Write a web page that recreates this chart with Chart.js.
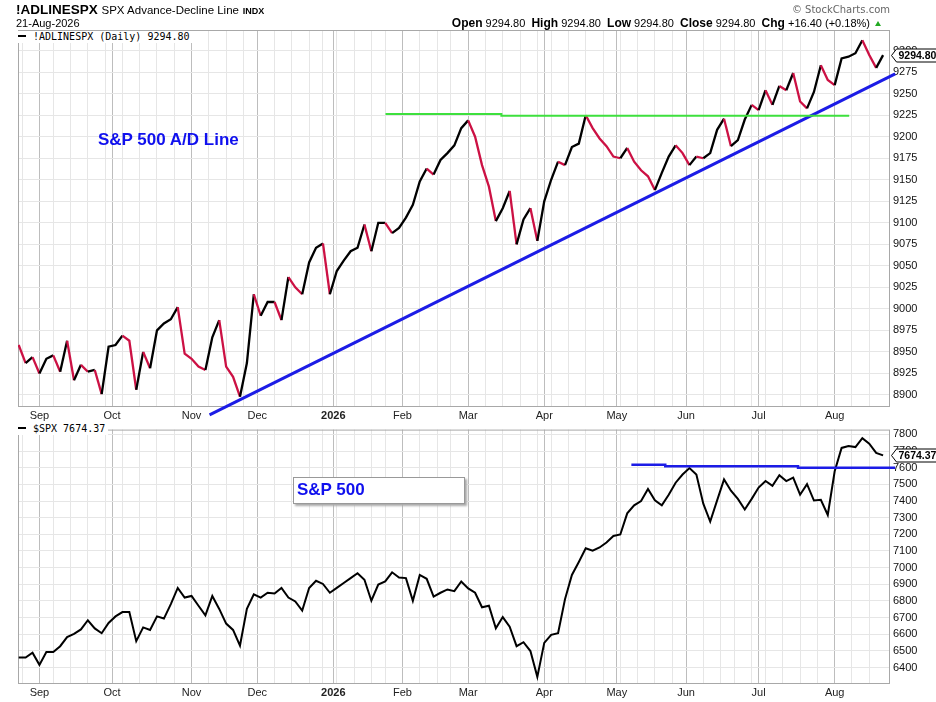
<!DOCTYPE html>
<html>
<head>
<meta charset="utf-8">
<script src="https://cdn.jsdelivr.net/npm/chart.js@4.4.1/dist/chart.umd.min.js"></script>
<style>
  body { margin: 0; width: 936px; height: 702px; position: relative; background: #fff; overflow: hidden;
         font-family: "Liberation Sans", Arial, sans-serif; color: #000; }
  .abs { position: absolute; white-space: nowrap; }
  .legend { background: #fff; font: 10px "DejaVu Sans Mono", monospace; line-height: 12px; padding-right: 3px; }
  .legend i { display: inline-block; width: 8px; height: 2px; background: #000; vertical-align: middle; margin: 0 7px 2px 1px; }
  .note { color: #1010ee; font-weight: bold; font-size: 17px; }
</style>
</head>
<body>

<div class="abs" style="left:0;top:0;width:936px;height:422px"><canvas id="adChart"></canvas></div>
<div class="abs" style="left:0;top:420px;width:936px;height:282px"><canvas id="spxChart"></canvas></div>

<!-- header -->
<div class="abs" style="left:16px;top:2px;font-weight:bold;font-size:13.5px">!ADLINESPX <span style="font-weight:normal;font-size:11.5px">SPX Advance-Decline Line</span> <span style="font-size:9px">INDX</span></div>
<div class="abs" style="left:16px;top:17px;font-size:11px">21-Aug-2026</div>
<div class="abs" style="right:46px;top:4px;font:10px 'DejaVu Sans', sans-serif;color:#666">© StockCharts.com</div>
<div class="abs" style="right:55px;top:16px;font-size:11px">
  <b style="font-size:12px">Open</b> 9294.80&nbsp; <b style="font-size:12px">High</b> 9294.80&nbsp; <b style="font-size:12px">Low</b> 9294.80&nbsp; <b style="font-size:12px">Close</b> 9294.80&nbsp; <b style="font-size:12px">Chg</b> +16.40 (+0.18%)
  <span style="display:inline-block;width:0;height:0;border-left:3px solid transparent;border-right:3px solid transparent;border-bottom:5px solid #22aa22;margin-left:2px;vertical-align:1px"></span>
</div>

<!-- panel legends -->
<div class="abs legend" id="adLegend" style="left:17px;top:31px"></div>
<div class="abs legend" id="spxLegend" style="left:17px;top:423px"></div>

<!-- annotations -->
<div class="abs note" style="left:98px;top:130px">S&amp;P 500 A/D Line</div>
<div class="abs" style="left:293px;top:477px;width:170px;height:25px;background:#fff;border:1px solid #999;box-shadow:2px 2px 2px #aaa"></div>
<div class="abs note" style="left:297px;top:480px">S&amp;P 500</div>

<script>
// trading calendar: first point is 22-Aug-2025, one value every 2 sessions
const startDate = '2025-08-22';
const sessionCount = 251;
const sampleStep = 2;
const holidays = ['2025-09-01', '2025-11-27', '2025-12-25', '2026-01-01', '2026-01-19',
                  '2026-02-16', '2026-04-03', '2026-05-25', '2026-06-19', '2026-07-03'];
const monthLabels = ['Sep', 'Oct', 'Nov', 'Dec', '2026', 'Feb', 'Mar', 'Apr', 'May', 'Jun', 'Jul', 'Aug'];

// !ADLINESPX closes
const adValues = [
  8958, 8937, 8944, 8925, 8942, 8946, 8927, 8963, 8917, 8935,
  8927, 8929, 8901, 8956, 8958, 8969, 8963, 8906, 8950, 8931,
  8975, 8983, 8988, 9002, 8948, 8942, 8933, 8929, 8967, 8987,
  8933, 8921, 8898, 8937, 9017, 8992, 9008, 9008, 8987, 9037,
  9025, 9017, 9054, 9071, 9076, 9017, 9044, 9056, 9067, 9071,
  9098, 9067, 9100, 9100, 9088, 9094, 9106, 9121, 9148, 9163,
  9156, 9173, 9181, 9190, 9210, 9219, 9200, 9167, 9142, 9102,
  9117, 9137, 9075, 9104, 9117, 9079, 9125, 9150, 9171, 9167,
  9188, 9192, 9225, 9210, 9198, 9189, 9177, 9175, 9187, 9171,
  9161, 9154, 9138, 9158, 9177, 9190, 9181, 9167, 9177, 9175,
  9181, 9208, 9221, 9189, 9196, 9220, 9237, 9231, 9254, 9237,
  9259, 9254, 9274, 9241, 9233, 9252, 9283, 9266, 9260, 9291,
  9293, 9297, 9312, 9295, 9280, 9294.80
];

// $SPX closes
const spxValues = [
  6460, 6460, 6489, 6416, 6493, 6493, 6528, 6583, 6602, 6629,
  6684, 6635, 6606, 6668, 6707, 6733, 6733, 6558, 6641, 6626,
  6707, 6694, 6781, 6878, 6820, 6830, 6771, 6713, 6830, 6752,
  6664, 6626, 6532, 6752, 6840, 6820, 6849, 6845, 6878, 6820,
  6797, 6742, 6878, 6921, 6902, 6849, 6878, 6908, 6937, 6966,
  6927, 6801, 6898, 6917, 6972, 6941, 6937, 6801, 6956, 6933,
  6826, 6849, 6869, 6859, 6917, 6875, 6849, 6762, 6771, 6635,
  6703, 6645, 6528, 6552, 6499, 6344, 6548, 6596, 6606, 6810,
  6956, 7034, 7116, 7102, 7121, 7151, 7190, 7199, 7326, 7374,
  7400, 7472, 7404, 7374, 7438, 7510, 7559, 7598, 7559, 7384,
  7277, 7404, 7530, 7462, 7413, 7349, 7413, 7481, 7520, 7491,
  7555, 7520, 7540, 7438, 7501, 7403, 7407, 7316, 7579, 7719,
  7730, 7724, 7777, 7744, 7689, 7674.37
];

const adTicks = [8900, 8925, 8950, 8975, 9000, 9025, 9050, 9075, 9100, 9125, 9150,
                 9175, 9200, 9225, 9250, 9275, 9300];
const spxTicks = [6400, 6500, 6600, 6700, 6800, 6900, 7000, 7100, 7200, 7300, 7400,
                  7500, 7600, 7700, 7800];

// hand-drawn lines, [session, value]
const adTrendLine = [[55.2, 8876.8], [253.5, 9273]];
const adResistance = [[106.1, 9226.5], [139.6, 9226.5], [139.6, 9224.5], [240.2, 9224.5]];
const spxResistance = [[177.2, 7617.6], [187, 7617.6], [187, 7609.5], [225.4, 7609.5], [225.4, 7600], [253.5, 7600]];

function buildCalendar(start, count, skip) {
    const days = [];
    const d = new Date(start + 'T12:00:00Z');
    while (days.length < count) {
        const dow = d.getUTCDay();
        const iso = d.toISOString().slice(0, 10);
        if (dow !== 0 && dow !== 6 && !skip.includes(iso)) days.push(d.getTime());
        d.setUTCDate(d.getUTCDate() + 1);
    }
    return days;
}

const sessions = buildCalendar(startDate, sessionCount, holidays);
const weekStarts = [];
const monthStarts = [];
for (let i = 1; i < sessions.length; i++) {
    const prev = new Date(sessions[i - 1]);
    const cur = new Date(sessions[i]);
    if (cur.getUTCDay() <= prev.getUTCDay()) weekStarts.push(i);
    if (cur.getUTCMonth() !== prev.getUTCMonth()) monthStarts.push(i);
}
const monthLabelAt = {};
monthStarts.forEach((idx, k) => { monthLabelAt[idx] = monthLabels[k]; });
const xTickValues = [...new Set([...weekStarts, ...monthStarts])].sort((a, b) => a - b);

const toPoints = arr => arr.map((v, i) => ({ x: i * sampleStep, y: v }));
const pairs = arr => arr.map(p => ({ x: p[0], y: p[1] }));

const RED = '#cc1144';
const BLUE = '#1c1ce6';

const frame = {
    id: 'frame',
    beforeDatasetsDraw(chart) {
        const a = chart.chartArea;
        const ctx = chart.ctx;
        ctx.save();
        ctx.strokeStyle = '#a8a8a8';
        ctx.lineWidth = 1;
        ctx.strokeRect(a.left + 0.5, a.top + 0.5, a.right - a.left - 1, a.bottom - a.top - 1);
        ctx.restore();
    }
};

const lastValueTag = {
    id: 'lastValueTag',
    afterDatasetsDraw(chart, args, opts) {
        const { ctx, chartArea, scales } = chart;
        const y = Math.round(scales.y.getPixelForValue(opts.value)) + 0.5;
        const x0 = chartArea.right + 1.5;
        const text = opts.value.toFixed(2);
        ctx.save();
        ctx.font = 'bold 10.5px "Liberation Sans", Arial, sans-serif';
        const w = ctx.measureText(text).width + 5;
        const h = 13;
        ctx.beginPath();
        ctx.moveTo(x0, y);
        ctx.lineTo(x0 + 5, y - h / 2);
        ctx.lineTo(x0 + 5 + w, y - h / 2);
        ctx.lineTo(x0 + 5 + w, y + h / 2);
        ctx.lineTo(x0 + 5, y + h / 2);
        ctx.closePath();
        ctx.fillStyle = '#fff';
        ctx.fill();
        ctx.strokeStyle = '#000';
        ctx.lineWidth = 1;
        ctx.stroke();
        ctx.fillStyle = '#000';
        ctx.textBaseline = 'middle';
        ctx.fillText(text, x0 + 7, y + 0.5);
        ctx.restore();
    }
};

function xScale(height) {
    return {
        type: 'linear',
        min: -0.2,
        max: 252,
        afterBuildTicks: s => { s.ticks = xTickValues.map(v => ({ value: v })); },
        afterFit: s => { s.height = height; },
        border: { display: false },
        grid: {
            drawTicks: false,
            color: ctx => (ctx.tick && monthLabelAt[ctx.tick.value] ? '#bdbdbd' : '#e6e6e6')
        },
        ticks: {
            autoSkip: false,
            maxRotation: 0,
            padding: 2,
            color: '#222',
            font: ctx => ({
                size: 11,
                family: '"Liberation Sans", Arial, sans-serif',
                weight: ctx.tick && monthLabelAt[ctx.tick.value] === '2026' ? 'bold' : 'normal'
            }),
            callback: v => monthLabelAt[v] || ''
        }
    };
}

function yScale(min, max, tickList) {
    return {
        position: 'right',
        min: min,
        max: max,
        afterBuildTicks: s => { s.ticks = tickList.map(v => ({ value: v })); },
        afterFit: s => { s.width = 46; },
        border: { display: false },
        grid: { drawTicks: false, color: '#e6e6e6' },
        ticks: {
            padding: 3,
            color: '#111',
            font: { size: 11, family: '"Liberation Sans", Arial, sans-serif' },
            callback: v => String(v)
        }
    };
}

document.getElementById('adLegend').innerHTML =
    '<i></i>!ADLINESPX (Daily) ' + adValues[adValues.length - 1].toFixed(2);
document.getElementById('spxLegend').innerHTML =
    '<i></i>$SPX ' + spxValues[spxValues.length - 1].toFixed(2);

new Chart(document.getElementById('adChart'), {
    type: 'line',
    data: {
        datasets: [
            {
                data: pairs(adResistance),
                borderColor: '#3de03d',
                borderWidth: 2,
                pointRadius: 0,
                clip: false
            },
            {
                data: pairs(adTrendLine),
                borderColor: BLUE,
                borderWidth: 3,
                pointRadius: 0,
                clip: false
            },
            {
                data: toPoints(adValues),
                borderWidth: 2.3,
                pointRadius: 0,
                segment: {
                    borderColor: ctx => (ctx.p1.parsed.y < ctx.p0.parsed.y ? RED : '#000')
                }
            }
        ]
    },
    options: {
        responsive: true,
        maintainAspectRatio: false,
        animation: false,
        layout: { padding: { left: 18, top: 30, right: 0, bottom: 0 } },
        scales: {
            x: xScale(15),
            y: yScale(8886, 9324, adTicks)
        },
        plugins: {
            legend: { display: false },
            tooltip: { enabled: false },
            lastValueTag: { value: adValues[adValues.length - 1] }
        }
    },
    plugins: [frame, lastValueTag]
});

new Chart(document.getElementById('spxChart'), {
    type: 'line',
    data: {
        datasets: [
            {
                data: pairs(spxResistance),
                borderColor: BLUE,
                borderWidth: 2.5,
                pointRadius: 0,
                clip: false
            },
            {
                data: toPoints(spxValues),
                borderColor: '#000',
                borderWidth: 2,
                pointRadius: 0
            }
        ]
    },
    options: {
        responsive: true,
        maintainAspectRatio: false,
        animation: false,
        layout: { padding: { left: 18, top: 2, right: 0, bottom: 0 } },
        scales: {
            x: xScale(18),
            y: yScale(6301, 7829, spxTicks)
        },
        plugins: {
            legend: { display: false },
            tooltip: { enabled: false },
            lastValueTag: { value: spxValues[spxValues.length - 1] }
        }
    },
    plugins: [frame, lastValueTag]
});
</script>
</body>
</html>
